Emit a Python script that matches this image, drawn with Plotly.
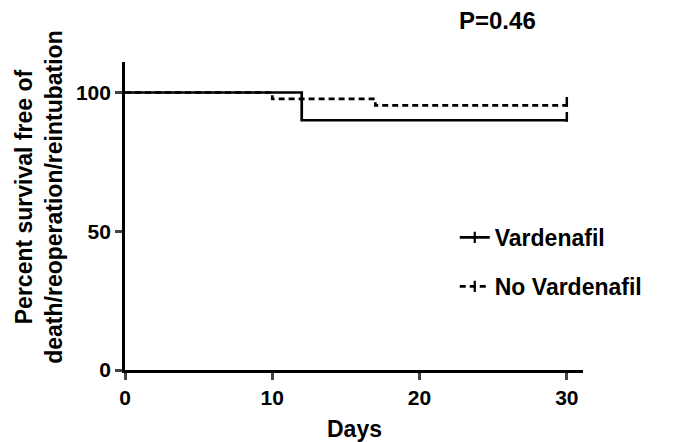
import plotly.graph_objects as go

# Kaplan-Meier step data
vard_days = [0, 12, 12, 30]
vard_surv = [100, 100, 90, 90]
novard_days = [0, 10, 10, 17, 17, 30]
novard_surv = [100, 100, 97.7, 97.7, 95.4, 95.4]
censor_days = [30]
vard_censor = [90]
novard_censor = [95.4]
x_ticks = [0, 10, 20, 30]
y_ticks = [0, 50, 100]
series_names = ["Vardenafil", "No Vardenafil"]

FONT = "Arial, Liberation Sans, sans-serif"
LW = 2.7

fig = go.Figure()
fig.add_trace(go.Scatter(x=vard_days, y=vard_surv, mode="lines", showlegend=False,
                         line=dict(color="black", width=LW)))
fig.add_trace(go.Scatter(x=novard_days, y=novard_surv, mode="lines", showlegend=False,
                         line=dict(color="black", width=LW, dash="6px,4px")))
fig.add_trace(go.Scatter(x=censor_days, y=[v + 1.2 for v in vard_censor], mode="markers",
                         marker=dict(symbol="line-ns", size=7, line=dict(color="black", width=2.5)),
                         showlegend=False))
fig.add_trace(go.Scatter(x=censor_days, y=[v + 1.2 for v in novard_censor], mode="markers",
                         marker=dict(symbol="line-ns", size=7, line=dict(color="black", width=2.5)),
                         showlegend=False))
# legend entries (line + censor tick)
for nm, dash, grp in [(series_names[0], "solid", "a"), (series_names[1], "6px,4px", "b")]:
    fig.add_trace(go.Scatter(x=[None], y=[None], mode="lines+markers", name=nm, legendgroup=grp,
                             line=dict(color="black", width=LW, dash=dash),
                             marker=dict(symbol="line-ns", size=8,
                                         line=dict(color="black", width=2.2))))

fig.update_layout(
    width=680, height=442,
    margin=dict(l=125, r=97, t=62, b=72, autoexpand=False),
    plot_bgcolor="white", paper_bgcolor="white",
    font=dict(family=FONT, color="black"),
    showlegend=True,
    legend=dict(x=0.72, y=0.50, xanchor="left", yanchor="top",
                font=dict(size=23, weight="bold", family=FONT),
                tracegroupgap=16, bgcolor="rgba(0,0,0,0)"),
    xaxis=dict(range=[0, 31.1], tickvals=x_ticks, ticks="outside", ticklen=7, tickwidth=LW,
               showline=True, linewidth=LW, linecolor="black", showgrid=False, zeroline=False,
               tickfont=dict(size=21, weight="bold", family=FONT)),
    yaxis=dict(range=[0, 111], tickvals=y_ticks, ticks="outside", ticklen=7, tickwidth=LW,
               showline=True, linewidth=LW, linecolor="black", showgrid=False, zeroline=False,
               tickfont=dict(size=21, weight="bold", family=FONT)),
    annotations=[
        dict(text="Percent survival free of<br>death/reoperation/reintubation", textangle=-90,
             xref="paper", yref="paper", x=-0.188, y=0.562, xanchor="center", yanchor="middle",
             showarrow=False, font=dict(size=23, weight="bold", family=FONT)),
        dict(text="Days", xref="paper", yref="paper", x=0.5, y=-0.19,
             xanchor="center", yanchor="middle", showarrow=False,
             font=dict(size=23, weight="bold", family=FONT)),
        dict(text="P=0.46", xref="paper", yref="paper", x=0.814, y=1.136,
             xanchor="center", yanchor="middle", showarrow=False,
             font=dict(size=24, weight="bold", family=FONT)),
    ],
)

fig.write_html("out.html", config={"displayModeBar": False},
               post_script="document.body.style.margin='0px';")
